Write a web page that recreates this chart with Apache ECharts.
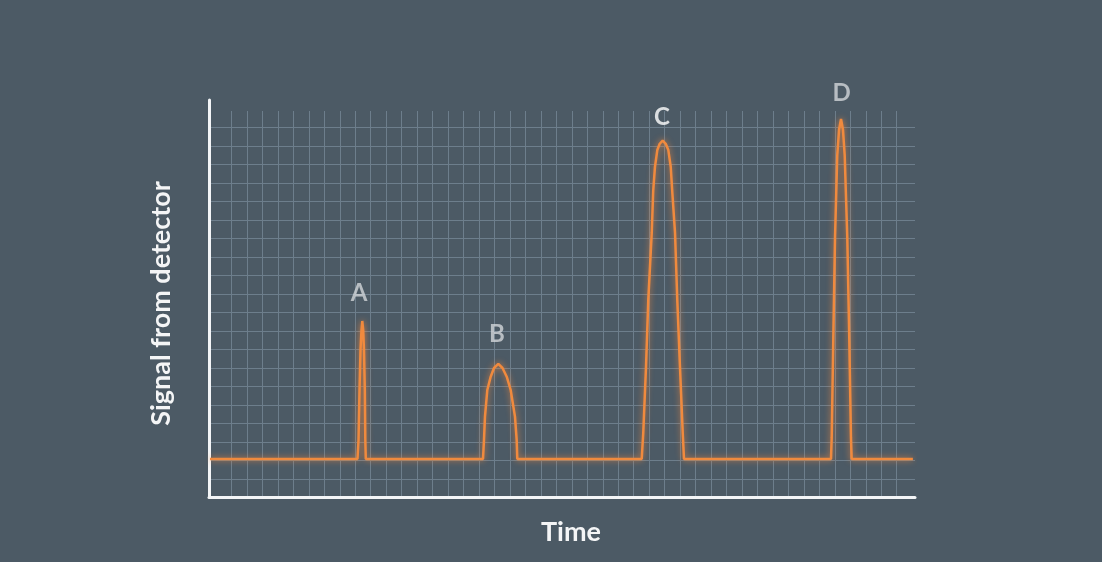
<!DOCTYPE html>
<html>
<head>
<meta charset="utf-8">
<script src="https://cdn.jsdelivr.net/npm/echarts@6/dist/echarts.min.js"></script>
<style>
html,body{margin:0;padding:0;background:#4c5a65;}
#chart{width:1102px;height:562px;}
</style>
</head>
<body>
<div id="chart"></div>
<script>
// ---- data (time units 0..100, signal in grid units 0..20) ----
const baseline = 2.07;
const timeStart = 0.14;
const timeEnd = 99.7;
const peakA = [[21.03,2.07],[21.18,3.1],[21.32,5.8],[21.46,7.96],[21.6,9.04],[21.71,9.53],[21.84,9.04],[21.95,7.96],[22.07,5.8],[22.14,3.1],[22.21,2.07]];
const peakB = [[38.81,2.07],[38.95,3.1],[39.09,4.36],[39.42,5.8],[39.9,6.52],[40.37,6.99],[40.98,7.21],[41.57,6.99],[42.17,6.52],[42.73,5.8],[43.34,4.36],[43.58,3.1],[43.67,2.07]];
const peakC = [[61.29,2.07],[61.51,3.48],[61.9,7.06],[62.22,10.66],[62.71,14.29],[62.92,16.57],[63.17,17.87],[63.5,18.77],[63.84,19.11],[64.26,19.28],[64.69,19.11],[65.06,18.77],[65.4,17.87],[65.61,16.57],[66.01,14.29],[66.33,10.66],[66.71,7.06],[67.1,3.48],[67.28,2.07]];
const peakD = [[88.1,2.07],[88.2,3.21],[88.43,8.61],[88.67,14.02],[88.99,18.5],[89.24,19.85],[89.52,20.45],[89.8,19.85],[90.04,18.5],[90.41,14.02],[90.69,8.61],[90.93,3.21],[91.03,2.07]];
const peakNames = ['A','B','C','D'];
const peakLabelPos = [[21.25,11.04],[40.79,8.83],[64.16,20.56],[89.6,21.86]];
const yAxisTitle = 'Signal from detector';
const xAxisTitle = 'Time';

const signal = [[timeStart, baseline]].concat(peakA, peakB, peakC, peakD, [[timeEnd, baseline]]);

const chart = echarts.init(document.getElementById('chart'));
const font = 'Lato, "Open Sans", sans-serif';
const gridLine = {show:true, lineStyle:{color:'#6d7e8c', width:1}};
const hidden = {show:false};

chart.setOption({
  backgroundColor:'#4c5a65',
  animation:false,
  grid:[
    {left:231.5, top:111, width:665.2, height:386},
    {left:209, top:127.3, width:706, height:370},
    {left:209, top:100, width:706, height:397}
  ],
  xAxis:[
    {gridIndex:0, type:'value', min:0, max:43, interval:1, axisLine:hidden, axisTick:hidden, axisLabel:hidden, splitLine:gridLine},
    {gridIndex:1, type:'value', min:0, max:100, axisLine:hidden, axisTick:hidden, axisLabel:hidden, splitLine:hidden},
    {gridIndex:2, type:'value', min:0, max:100, axisTick:hidden, axisLabel:hidden, splitLine:hidden,
     axisLine:{show:true, lineStyle:{color:'#f3f5f7', width:3}},
     name:xAxisTitle, nameLocation:'middle', nameGap:22,
     nameTextStyle:{color:'#f4f5f6', fontFamily:font, fontWeight:'bold', fontSize:27, padding:[0,0,0,18]}}
  ],
  yAxis:[
    {gridIndex:0, type:'value', min:0, max:1, show:false},
    {gridIndex:1, type:'value', min:0, max:20, interval:1, axisLine:hidden, axisTick:hidden, axisLabel:hidden, splitLine:gridLine},
    {gridIndex:2, type:'value', min:0, max:1, axisTick:hidden, axisLabel:hidden, splitLine:hidden,
     axisLine:{show:true, lineStyle:{color:'#f3f5f7', width:3}},
     name:yAxisTitle, nameLocation:'middle', nameGap:34, nameRotate:90,
     nameTextStyle:{color:'#f4f5f6', fontFamily:font, fontWeight:'bold', fontSize:27, padding:[0,10,0,0]}}
  ],
  series:[
    {type:'line', xAxisIndex:1, yAxisIndex:1, data:signal, symbol:'none', clip:false,
     lineStyle:{color:'#f08a3e', width:2.5, shadowColor:'rgba(255,140,60,0.8)', shadowBlur:6}},
    {type:'scatter', xAxisIndex:1, yAxisIndex:1, clip:false, symbolSize:0,
     data:peakLabelPos.map((p,i)=>({value:p, name:peakNames[i],
       label:{color: peakNames[i]==='C' ? '#ffffff' : '#d2d6da'}})),
     label:{show:true, position:'inside', formatter:'{b}', fontFamily:font, fontWeight:'bold', fontSize:24}}
  ]
});
</script>
</body>
</html>
